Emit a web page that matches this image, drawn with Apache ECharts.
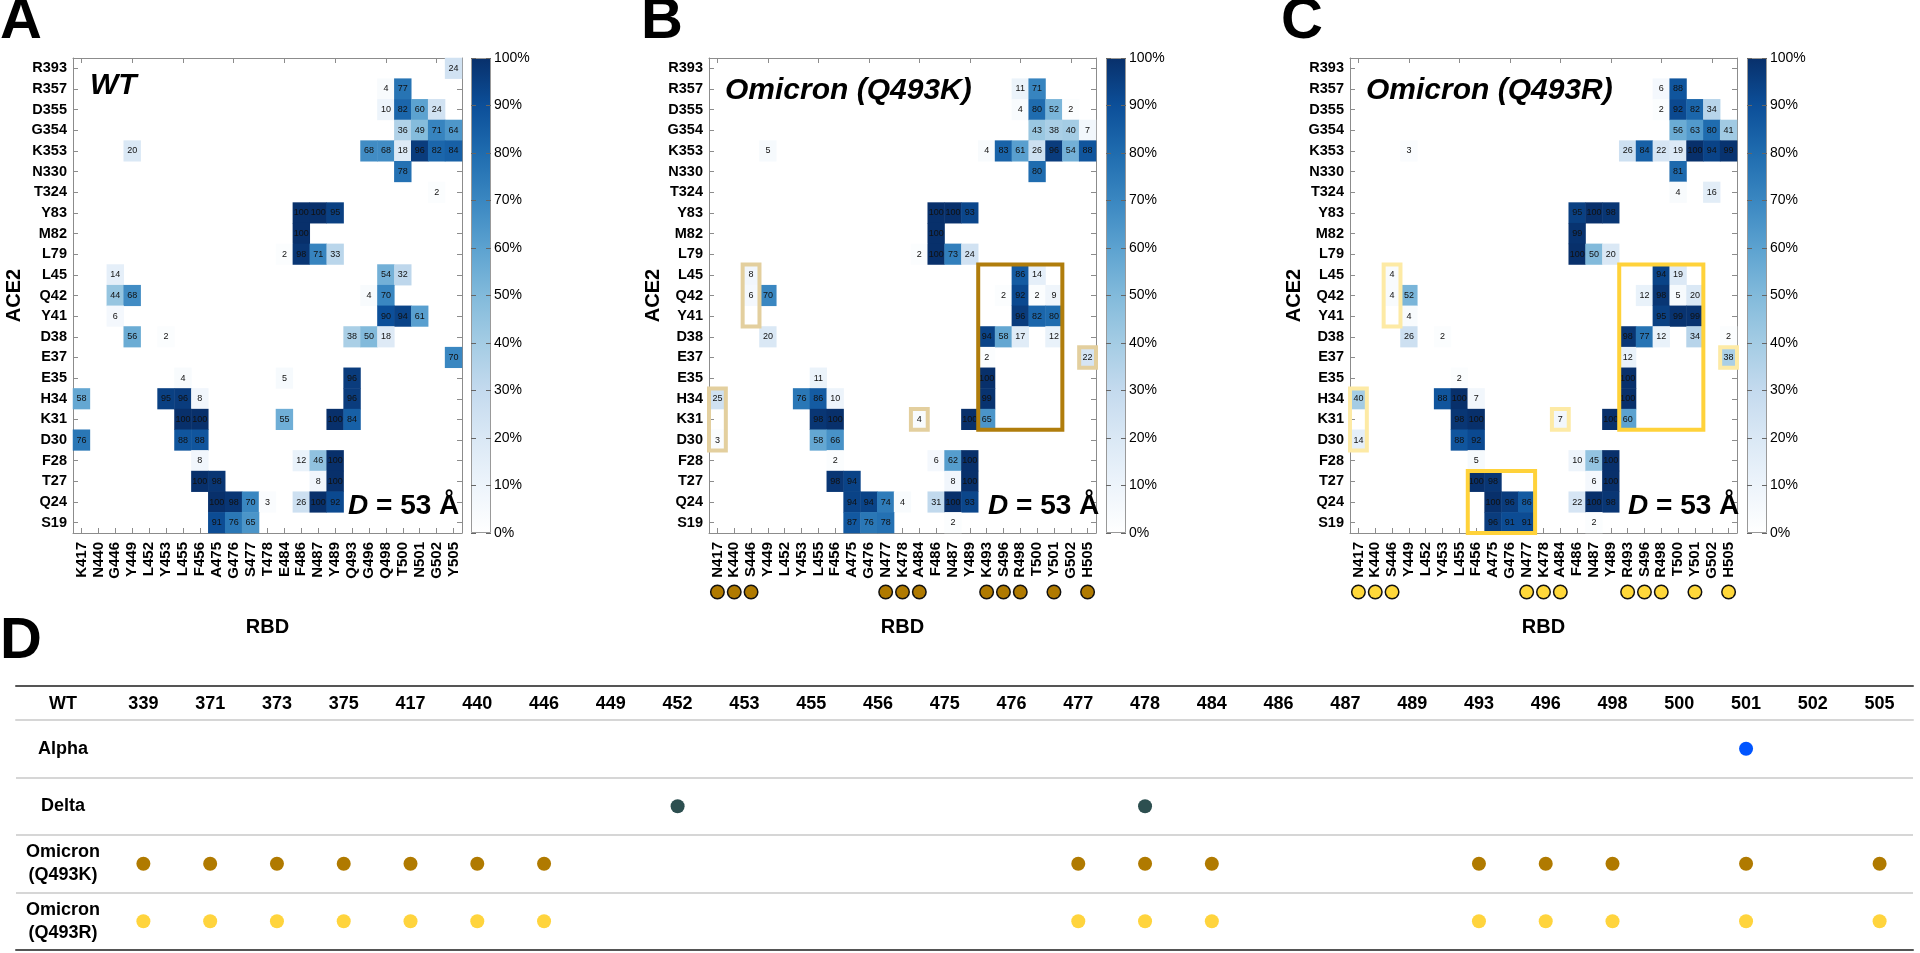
<!DOCTYPE html>
<html>
<head>
<meta charset="utf-8">
<script src="https://cdn.jsdelivr.net/npm/echarts@6/dist/echarts.min.js"></script>
<style>html,body{margin:0;padding:0;background:#fff}#main{width:1920px;height:953px}</style>
</head>
<body>
<div id="main"></div>
<script>
var FONT = "'Liberation Sans',Arial,Helvetica,sans-serif";

// ACE2 residues, top to bottom
var ace2 = ['R393','R357','D355','G354','K353','N330','T324','Y83','M82','L79','L45','Q42','Y41',
  'D38','E37','E35','H34','K31','D30','F28','T27','Q24','S19'];

// RBD residues per structure
var rbdWT = ['K417','N440','G446','Y449','L452','Y453','L455','F456','A475','G476','S477','T478',
  'E484','F486','N487','Y489','Q493','G496','Q498','T500','N501','G502','Y505'];
var rbdK = ['N417','K440','S446','Y449','L452','Y453','L455','F456','A475','G476','N477','K478',
  'A484','F486','N487','Y489','K493','S496','R498','T500','Y501','G502','H505'];
var rbdR = ['N417','K440','S446','Y449','L452','Y453','L455','F456','A475','G476','N477','K478',
  'A484','F486','N487','Y489','R493','S496','R498','T500','Y501','G502','H505'];

// contact occupancy (%) : [RBD, ACE2, value]
var cellsWT = [
  ['Y505','R393',24],
  ['Q498','R357',4],['T500','R357',77],
  ['Q498','D355',10],['T500','D355',82],['N501','D355',60],['G502','D355',24],
  ['T500','G354',36],['N501','G354',49],['G502','G354',71],['Y505','G354',64],
  ['Y449','K353',20],['G496','K353',68],['Q498','K353',68],['T500','K353',18],['N501','K353',96],['G502','K353',82],['Y505','K353',84],
  ['T500','N330',78],
  ['G502','T324',2],
  ['F486','Y83',100],['N487','Y83',100],['Y489','Y83',95],
  ['F486','M82',100],
  ['E484','L79',2],['F486','L79',98],['N487','L79',71],['Y489','L79',33],
  ['G446','L45',14],['Q498','L45',54],['T500','L45',32],
  ['G446','Q42',44],['Y449','Q42',68],['G496','Q42',4],['Q498','Q42',70],
  ['G446','Y41',6],['Q498','Y41',90],['T500','Y41',94],['N501','Y41',61],
  ['Y449','D38',56],['Y453','D38',2],['Q493','D38',38],['G496','D38',50],['Q498','D38',18],
  ['Y505','E37',70],
  ['L455','E35',4],['E484','E35',5],['Q493','E35',96],
  ['K417','H34',58],['Y453','H34',95],['L455','H34',96],['F456','H34',8],['Q493','H34',96],
  ['L455','K31',100],['F456','K31',100],['E484','K31',55],['Y489','K31',100],['Q493','K31',84],
  ['K417','D30',76],['L455','D30',88],['F456','D30',88],
  ['F456','F28',8],['F486','F28',12],['N487','F28',46],['Y489','F28',100],
  ['F456','T27',100],['A475','T27',98],['N487','T27',8],['Y489','T27',100],
  ['A475','Q24',100],['G476','Q24',98],['S477','Q24',70],['T478','Q24',3],['F486','Q24',26],['N487','Q24',100],['Y489','Q24',92],
  ['A475','S19',91],['G476','S19',76],['S477','S19',65]
];
var cellsK = [
  ['R498','R357',11],['T500','R357',71],
  ['R498','D355',4],['T500','D355',80],['Y501','D355',52],['G502','D355',2],
  ['T500','G354',43],['Y501','G354',38],['G502','G354',40],['H505','G354',7],
  ['Y449','K353',5],['K493','K353',4],['S496','K353',83],['R498','K353',61],['T500','K353',26],['Y501','K353',96],['G502','K353',54],['H505','K353',88],
  ['T500','N330',80],
  ['F486','Y83',100],['N487','Y83',100],['Y489','Y83',93],
  ['F486','M82',100],
  ['A484','L79',2],['F486','L79',100],['N487','L79',73],['Y489','L79',24],
  ['S446','L45',8],['R498','L45',86],['T500','L45',14],
  ['S446','Q42',6],['Y449','Q42',70],['S496','Q42',2],['R498','Q42',92],['T500','Q42',2],['Y501','Q42',9],
  ['R498','Y41',96],['T500','Y41',82],['Y501','Y41',80],
  ['Y449','D38',20],['K493','D38',94],['S496','D38',58],['R498','D38',17],['Y501','D38',12],
  ['K493','E37',2],['H505','E37',22],
  ['L455','E35',11],['K493','E35',100],
  ['N417','H34',25],['Y453','H34',76],['L455','H34',86],['F456','H34',10],['K493','H34',99],
  ['L455','K31',98],['F456','K31',100],['A484','K31',4],['Y489','K31',100],['K493','K31',65],
  ['N417','D30',3],['L455','D30',58],['F456','D30',66],
  ['F456','F28',2],['F486','F28',6],['N487','F28',62],['Y489','F28',100],
  ['F456','T27',98],['A475','T27',94],['N487','T27',8],['Y489','T27',100],
  ['A475','Q24',94],['G476','Q24',94],['N477','Q24',74],['K478','Q24',4],['F486','Q24',31],['N487','Q24',100],['Y489','Q24',93],
  ['A475','S19',87],['G476','S19',76],['N477','S19',78],['N487','S19',2]
];
var cellsR = [
  ['R498','R357',6],['T500','R357',88],
  ['R498','D355',2],['T500','D355',92],['Y501','D355',82],['G502','D355',34],
  ['T500','G354',56],['Y501','G354',63],['G502','G354',80],['H505','G354',41],
  ['Y449','K353',3],['R493','K353',26],['S496','K353',84],['R498','K353',22],['T500','K353',19],['Y501','K353',100],['G502','K353',94],['H505','K353',99],
  ['T500','N330',81],
  ['T500','T324',4],['G502','T324',16],
  ['F486','Y83',95],['N487','Y83',100],['Y489','Y83',98],
  ['F486','M82',99],
  ['F486','L79',100],['N487','L79',50],['Y489','L79',20],
  ['S446','L45',4],['R498','L45',94],['T500','L45',19],
  ['S446','Q42',4],['Y449','Q42',52],['S496','Q42',12],['R498','Q42',98],['T500','Q42',5],['Y501','Q42',20],
  ['Y449','Y41',4],['R498','Y41',95],['T500','Y41',99],['Y501','Y41',99],
  ['Y449','D38',26],['Y453','D38',2],['R493','D38',98],['S496','D38',77],['R498','D38',12],['Y501','D38',34],['H505','D38',2],
  ['R493','E37',12],['H505','E37',38],
  ['L455','E35',2],['R493','E35',100],
  ['N417','H34',40],['Y453','H34',88],['L455','H34',100],['F456','H34',7],['R493','H34',100],
  ['L455','K31',98],['F456','K31',100],['A484','K31',7],['Y489','K31',100],['R493','K31',60],
  ['N417','D30',14],['L455','D30',88],['F456','D30',92],
  ['F456','F28',5],['F486','F28',10],['N487','F28',45],['Y489','F28',100],
  ['F456','T27',100],['A475','T27',98],['N487','T27',6],['Y489','T27',100],
  ['A475','Q24',100],['G476','Q24',96],['N477','Q24',86],['F486','Q24',22],['N487','Q24',100],['Y489','Q24',98],
  ['A475','S19',96],['G476','S19',91],['N477','S19',91],['N487','S19',2]
];

// mutated RBD positions (dots under the axis)
var mutK = ['N417','K440','S446','N477','K478','A484','K493','S496','R498','Y501','H505'];
var mutR = ['N417','K440','S446','N477','K478','A484','R493','S496','R498','Y501','H505'];

// highlighted boxes: [fromRBD, fromACE2, toRBD, toACE2, main?]
var boxesK = [
  ['N417','H34','N417','D30',0],['S446','L45','S446','Y41',0],['A484','K31','A484','K31',0],
  ['H505','E37','H505','E37',0],['K493','L45','Y501','K31',1]
];
var boxesR = [
  ['N417','H34','N417','D30',0],['S446','L45','S446','Y41',0],['A484','K31','A484','K31',0],
  ['H505','E37','H505','E37',0],['R493','L45','Y501','K31',1],['F456','T27','N477','S19',1]
];

// panel D
var tableHeader = ['WT'];
var tablePositions = ['339','371','373','375','417','440','446','449','452','453','455','456','475',
  '476','477','478','484','486','487','489','493','496','498','500','501','502','505'];
var variants = ['Alpha','Delta','Omicron\n(Q493K)','Omicron\n(Q493R)'];
var mutAlpha = ['501'];
var mutDelta = ['452','478'];
var mutOmiK = ['339','371','373','375','417','440','446','477','478','484','493','496','498','501','505'];
var mutOmiR = ['339','371','373','375','417','440','446','477','478','484','493','496','498','501','505'];

var blues = ['#ffffff','#edf4fb','#dae8f5','#c4daee','#a4cce4','#82badb','#5ca2d0','#3a87c1','#1f6caf','#0c4f99','#08306b'];

var chart = echarts.init(document.getElementById('main'));
var grids = [], xAxes = [], yAxes = [], series = [];
var frame = {show: true, lineStyle: {color: '#8c8c8c', width: 1}};
var ticks = {show: true, inside: true, length: 5, alignWithLabel: true, lineStyle: {color: '#8c8c8c'}};
var boldLbl = {fontFamily: FONT, fontWeight: 'bold', color: '#000'};

function addPanel(o) {
  var g = grids.length;
  grids.push({left: o.left, top: 58, width: o.width, height: 475});
  var xi = xAxes.length;
  xAxes.push({type: 'category', gridIndex: g, data: o.cols, position: 'bottom',
    axisLine: frame, axisTick: ticks, splitLine: {show: false},
    axisLabel: Object.assign({interval: 0, rotate: 90, margin: 9, fontSize: 15}, boldLbl),
    name: 'RBD', nameLocation: 'middle', nameGap: 84,
    nameTextStyle: Object.assign({fontSize: 20}, boldLbl)});
  xAxes.push({type: 'category', gridIndex: g, data: o.cols, position: 'top',
    axisLine: frame, axisTick: ticks, axisLabel: {show: false}});
  if (o.mut) {
    xAxes.push({type: 'category', gridIndex: g, data: o.cols, position: 'bottom', offset: 45,
      axisLine: {show: false}, axisTick: {show: false},
      axisLabel: {interval: 0, margin: 8,
        formatter: function (v) { return o.mut.indexOf(v) >= 0 ? '{c| }' : ''; },
        rich: {c: {width: 12, height: 12, borderRadius: 7, backgroundColor: o.dot, borderColor: '#111', borderWidth: 1.5}}}});
  }
  var yi = yAxes.length;
  yAxes.push({type: 'category', gridIndex: g, data: ace2, inverse: true, position: 'left',
    axisLine: frame, axisTick: ticks,
    axisLabel: Object.assign({interval: 0, margin: 6, fontSize: 14.5}, boldLbl),
    name: 'ACE2', nameLocation: 'middle', nameGap: o.nameGap, nameRotate: 90,
    nameTextStyle: Object.assign({fontSize: 20}, boldLbl)});
  yAxes.push({type: 'category', gridIndex: g, data: ace2, inverse: true, position: 'right',
    axisLine: frame, axisTick: ticks, axisLabel: {show: false}});

  series.push({type: 'heatmap', xAxisIndex: xi, yAxisIndex: yi, data: o.cells,
    itemStyle: {borderWidth: 0},
    label: {show: true, fontSize: 9, color: '#111', fontFamily: FONT,
      formatter: function (p) { return p.value[2]; }},
    emphasis: {disabled: true}});

  if (o.boxes) {
    series.push({type: 'custom', xAxisIndex: xi, yAxisIndex: yi, clip: false, silent: true, z: 6,
      encode: {x: [0, 2], y: [1, 3]},
      data: o.boxes.map(function (b) {
        return [o.cols.indexOf(b[0]), ace2.indexOf(b[1]), o.cols.indexOf(b[2]), ace2.indexOf(b[3]), b[4]];
      }),
      renderItem: function (params, api) {
        var a = api.coord([api.value(0), api.value(1)]);
        var b = api.coord([api.value(2), api.value(3)]);
        var s = api.size([1, 1]);
        var x0 = Math.min(a[0], b[0]) - s[0] / 2, y0 = Math.min(a[1], b[1]) - s[1] / 2;
        return {type: 'rect',
          shape: {x: x0, y: y0, width: Math.abs(b[0] - a[0]) + s[0], height: Math.abs(b[1] - a[1]) + s[1]},
          style: {fill: 'none', stroke: api.value(4) ? o.boxMain : o.boxLight, lineWidth: 4}};
      }});
  }

  // colour bar
  var cg = grids.length;
  grids.push({left: o.barLeft, top: 58, width: 20, height: 475});
  var cx = xAxes.length;
  xAxes.push({type: 'category', gridIndex: cg, data: ['c'], show: false});
  var cy = yAxes.length;
  yAxes.push({type: 'value', gridIndex: cg, min: 0, max: 100, interval: 10, position: 'right', z: 10,
    axisLine: {show: false}, splitLine: {show: false},
    axisTick: {show: true, inside: true, length: 5, lineStyle: {color: '#666'}},
    axisLabel: {formatter: '{value}%', margin: 3, fontSize: 14, color: '#000', fontFamily: FONT}});
  yAxes.push({type: 'value', gridIndex: cg, min: 0, max: 100, interval: 10, position: 'left', z: 10,
    axisLine: {show: false}, splitLine: {show: false}, axisLabel: {show: false},
    axisTick: {show: true, inside: true, length: 5, lineStyle: {color: '#666'}}});
  series.push({type: 'bar', xAxisIndex: cx, yAxisIndex: cy, data: [100], barWidth: '100%', silent: true,
    itemStyle: {borderColor: '#999', borderWidth: 1,
      color: new echarts.graphic.LinearGradient(0, 1, 0, 0, blues.map(function (c, i) {
        return {offset: i / (blues.length - 1), color: c};
      }))}});
}

addPanel({left: 73, width: 389, barLeft: 471, nameGap: 49, cols: rbdWT, cells: cellsWT});
addPanel({left: 709, width: 387, barLeft: 1106, nameGap: 45, cols: rbdK, cells: cellsK,
  mut: mutK, dot: '#b07a00', boxes: boxesK, boxMain: '#b07d0c', boxLight: '#e3cf9e'});
addPanel({left: 1350, width: 387, barLeft: 1747, nameGap: 46, cols: rbdR, cells: cellsR,
  mut: mutR, dot: '#ffd83a', boxes: boxesR, boxMain: '#ffd23a', boxLight: '#fdeaa5'});

// panel D table: label column grid + positions grid
var darkRule = {show: true, lineStyle: {color: '#555', width: 2}};
var lightRule = {show: true, lineStyle: {color: '#d6d6d6', width: 2}};
function tableGrid(left, width, cols, withLabels) {
  var g = grids.length;
  grids.push({left: left, width: width, top: 720, height: 230});
  var xi = xAxes.length;
  xAxes.push({type: 'category', gridIndex: g, data: cols, position: 'top',
    axisLine: lightRule, axisTick: {show: false},
    axisLabel: Object.assign({interval: 0, margin: 7, fontSize: 18}, boldLbl)});
  xAxes.push({type: 'category', gridIndex: g, data: cols, position: 'top', offset: 34,
    axisLine: darkRule, axisTick: {show: false}, axisLabel: {show: false}});
  xAxes.push({type: 'category', gridIndex: g, data: cols, position: 'bottom',
    axisLine: darkRule, axisTick: {show: false}, axisLabel: {show: false}});
  var yi = yAxes.length;
  yAxes.push({type: 'category', gridIndex: g, data: variants, inverse: true,
    axisLine: {show: false}, axisTick: {show: false},
    splitLine: {show: true, interval: 0, lineStyle: {color: '#d6d6d6', width: 2}},
    axisLabel: withLabels
      ? Object.assign({inside: true, margin: width / 2, align: 'center', fontSize: 18, lineHeight: 23}, boldLbl)
      : {show: false}});
  return [xi, yi];
}
tableGrid(16, 94, tableHeader, true);
var tAx = tableGrid(110, 1803, tablePositions, false);

[[mutAlpha, variants[0], '#0055ff'], [mutDelta, variants[1], '#2d4f50'],
 [mutOmiK, variants[2], '#b07a00'], [mutOmiR, variants[3], '#ffd43d']].forEach(function (r) {
  series.push({type: 'scatter', xAxisIndex: tAx[0], yAxisIndex: tAx[1], symbolSize: 14, silent: true,
    itemStyle: {color: r[2], opacity: 1},
    data: r[0].map(function (p) { return [p, r[1]]; })});
});

function panelTitle(text, left, top) {
  return {text: text, left: left, top: top, padding: 0,
    textStyle: {fontFamily: FONT, fontWeight: 'bold', fontSize: 58, color: '#000'}};
}
function subTitle(text, left, top) {
  return {text: text, left: left, top: top, padding: 0,
    textStyle: {fontFamily: FONT, fontWeight: 'bold', fontStyle: 'italic', fontSize: 30, color: '#000'}};
}
function distTitle(left) {
  return {text: '{i|D} = 53 Å', left: left, top: 492, padding: 0,
    textStyle: {fontFamily: FONT, fontWeight: 'bold', fontSize: 28, color: '#000',
      rich: {i: {fontFamily: FONT, fontWeight: 'bold', fontStyle: 'italic', fontSize: 28, color: '#000'}}}};
}

chart.setOption({
  animation: false,
  title: [
    panelTitle('A', 0, -7), panelTitle('B', 641, -7), panelTitle('C', 1281, -7), panelTitle('D', 0, 613),
    subTitle('WT', 90, 71), subTitle('Omicron (Q493K)', 725, 76), subTitle('Omicron (Q493R)', 1366, 76),
    distTitle(348), distTitle(988), distTitle(1628)
  ],
  visualMap: {type: 'continuous', show: false, min: 0, max: 100, seriesIndex: [0, 2, 5],
    inRange: {color: blues}},
  grid: grids,
  xAxis: xAxes,
  yAxis: yAxes,
  series: series
});
</script>
</body>
</html>
